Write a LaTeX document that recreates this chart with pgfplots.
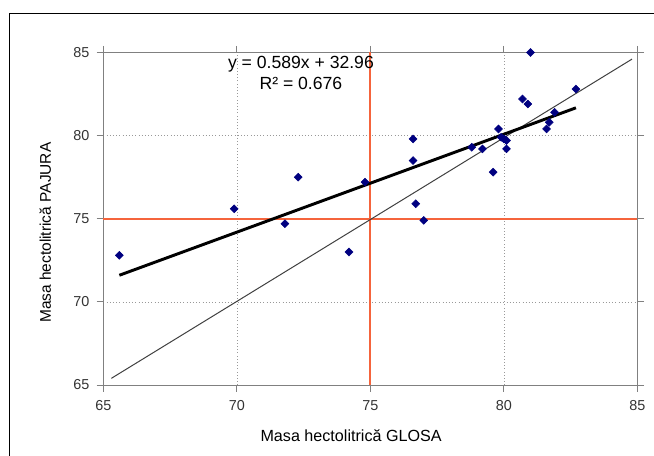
\documentclass[border=0pt]{standalone}
\usepackage{pgfplots}
\pgfplotsset{compat=1.18}
\usepackage{fontspec}
\setmainfont{Liberation Sans}

\definecolor{pointblue}{RGB}{0,0,128}
\definecolor{refline}{RGB}{245,100,60}
\definecolor{axisgray}{RGB}{128,128,128}

\begin{document}
\begin{tikzpicture}
% page = 654 x 456 px, 1 px = 0.75pt
\useasboundingbox (0pt,0pt) rectangle (490.5pt,342pt);
\draw[black, line width=0.6pt] (6.75pt,0pt) -- (6.75pt,332.25pt) -- (490.5pt,332.25pt);
\begin{axis}[
    at={(77.5pt,53.25pt)}, anchor=south west,
    scale only axis,
    width=400.5pt, height=249.4pt,
    xmin=65, xmax=85, ymin=65, ymax=85,
    xtick={65,70,...,85}, ytick={65,70,...,85},
    tick align=outside,
    major tick length=5pt,
    tick style={axisgray, line width=0.6pt},
    axis line style={axisgray, line width=0.6pt},
    grid=major,
    major grid style={gray!80, dotted, line width=0.5pt},
    tick label style={font=\fontsize{10.8}{12}\selectfont, text=black!80},
    /pgf/number format/assume math mode=true,
    xticklabel style={yshift=-3pt},
    yticklabel style={xshift=-2pt},
    xlabel={Masa hectolitrică GLOSA},
    ylabel={Masa hectolitrică PAJURA},
    every axis x label/.style={at={(axis description cs:0.464,-0.153)}, anchor=center,
        font=\fontsize{12.1}{14}\selectfont},
    every axis y label/.style={at={(axis description cs:-0.109,0.458)}, anchor=center, rotate=90,
        font=\fontsize{11.6}{14}\selectfont},
    clip=false,
]
% reference lines at 75
\addplot[refline, line width=1.4pt] coordinates {(75,65) (75,85)};
\addplot[refline, line width=1.4pt] coordinates {(65,75) (85,75)};
% line y = x
\addplot[black!75, line width=0.75pt] coordinates {(65.3,65.4) (84.8,84.6)};
% linear trend
\addplot[black, line width=2.2pt] coordinates {(65.6,71.60) (82.7,81.67)};
% data
\addplot[only marks, mark=square*, mark size=2.1pt, mark options={rotate=45}, color=pointblue] coordinates {
  (65.6,72.8) (69.9,75.6) (71.8,74.7) (72.3,77.5) (74.2,73.0)
  (74.8,77.2) (76.6,79.8) (76.6,78.5) (76.7,75.9) (77.0,74.9)
  (78.8,79.3) (79.2,79.2) (79.6,77.8) (79.8,80.4) (79.9,79.9)
  (80.0,79.8) (80.1,79.7) (80.1,79.2) (80.7,82.2) (80.9,81.9)
  (81.0,85.0) (81.6,80.4) (81.7,80.8) (81.9,81.4) (82.7,82.8)
};
\node[font=\fontsize{13.2}{14}\selectfont] at (axis cs:72.4,84.3) {y = 0.589x + 32.96};
\node[font=\fontsize{13.2}{14}\selectfont] at (axis cs:72.4,83.14) {R² = 0.676};
\end{axis}
\end{tikzpicture}
\end{document}
